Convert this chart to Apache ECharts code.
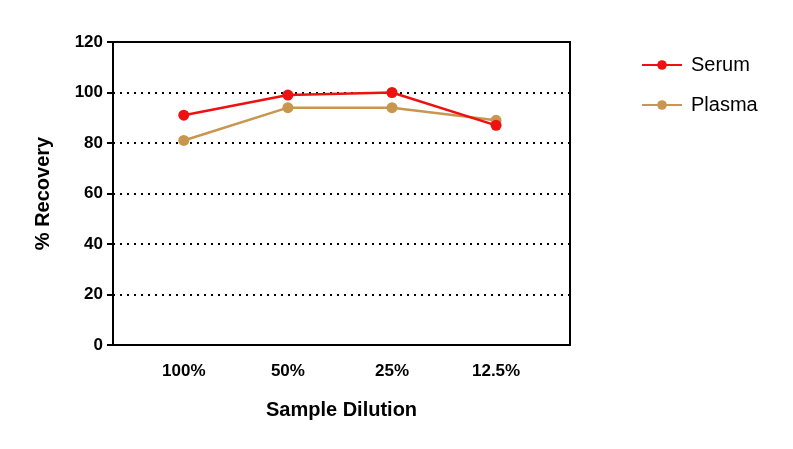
<!DOCTYPE html><html><head><meta charset="utf-8">
<script src="https://cdn.jsdelivr.net/npm/echarts@6/dist/echarts.min.js"></script>
<style>body{margin:0}#c{width:793px;height:449px}</style></head><body><div id="c"></div><script>
const categories=['100%','50%','25%','12.5%'];
const serum=[91,99,100,87];
const plasma=[81,94,94,89];
const yTicks=[0,20,40,60,80,100,120];
const ch=echarts.init(document.getElementById('c'));
const F='Liberation Sans, Arial, sans-serif';
function mk(v){return v.map((y,i)=>[i,y]);}
ch.setOption({
 animation:false,
 grid:{left:113,top:42,width:457,height:303,show:true,borderColor:'#000',borderWidth:2},
 legend:{orient:'vertical',left:636,top:50,itemGap:20,itemWidth:40,itemHeight:12,
  textStyle:{fontFamily:F,fontSize:20,color:'#000',padding:[0,0,0,4]},data:['Serum','Plasma']},
 xAxis:{type:'value',min:-0.68,max:3.71,name:'Sample Dilution',nameLocation:'middle',nameGap:55,
  nameTextStyle:{fontFamily:F,fontSize:20,fontWeight:'bold',color:'#000'},
  axisLine:{onZero:false,lineStyle:{color:'#000',width:2}},splitLine:{show:false},
  axisTick:{show:false},
  axisLabel:{fontFamily:F,fontSize:17,fontWeight:'bold',color:'#000',margin:18,
   customValues:[0,1,2,3],formatter:v=>categories[Math.round(v)]??''}},
 yAxis:{type:'value',min:0,max:120,interval:20,name:'% Recovery',nameLocation:'middle',nameGap:60,
  nameTextStyle:{fontFamily:F,fontSize:20,fontWeight:'bold',color:'#000'},
  axisLine:{show:true,onZero:false,lineStyle:{color:'#000',width:2}},
  axisTick:{show:true,length:6,lineStyle:{color:'#000',width:2}},
  splitLine:{show:true,lineStyle:{color:'#000',type:[2,5],width:2}},
  axisLabel:{fontFamily:F,fontSize:17,fontWeight:'bold',color:'#000',margin:10}},
 series:[
  {name:'Serum',type:'line',data:mk(serum),color:'#ee1111',symbol:'circle',symbolSize:11,lineStyle:{width:2.5},z:3},
  {name:'Plasma',type:'line',data:mk(plasma),color:'#c8964f',symbol:'circle',symbolSize:11,lineStyle:{width:2.5},z:2}
 ]
});
</script></body></html>
